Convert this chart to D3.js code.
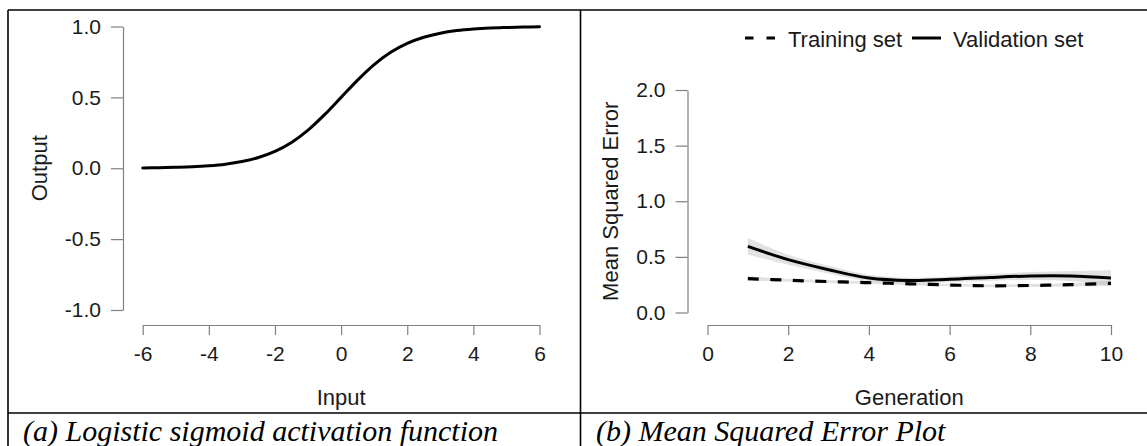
<!DOCTYPE html>
<html>
<head>
<meta charset="utf-8">
<script src="https://cdn.jsdelivr.net/npm/d3@7/dist/d3.min.js"></script>
<style>
  html, body { margin: 0; padding: 0; background: #fff; }
  svg { display: block; }
  .tick text { font-family: "Liberation Sans", Arial, sans-serif; font-size: 21px; fill: #1a1a1a; }
  .axis path, .axis line { stroke: #808080; stroke-width: 1.2; }
  .title { font-family: "Liberation Sans", Arial, sans-serif; font-size: 22px; fill: #1a1a1a; }
  .caption { font-family: "Liberation Serif", "Times New Roman", serif; font-style: italic; font-size: 30px; fill: #000; }
</style>
</head>
<body>
<svg id="fig" width="1147" height="446"></svg>
<script>
// Panel (a): logistic sigmoid, sampled every 0.5 on the input axis
const sigmoidInput  = [-6, -5.5, -5, -4.5, -4, -3.5, -3, -2.5, -2, -1.5, -1, -0.5, 0,
                       0.5, 1, 1.5, 2, 2.5, 3, 3.5, 4, 4.5, 5, 5.5, 6];
const sigmoidOutput = [0.002, 0.004, 0.007, 0.011, 0.018, 0.029, 0.047, 0.076, 0.119, 0.182, 0.269, 0.378, 0.5,
                       0.622, 0.731, 0.818, 0.881, 0.924, 0.953, 0.971, 0.982, 0.989, 0.993, 0.996, 0.998];
const sigmoidXTicks = [-6, -4, -2, 0, 2, 4, 6];
const sigmoidYTicks = [-1, -0.5, 0, 0.5, 1];

// Panel (b): smoothed MSE per generation with confidence bands
const generations     = [1, 2, 3, 4, 5, 6, 7, 8, 9, 10];
const trainingMSE     = [0.305, 0.290, 0.278, 0.268, 0.258, 0.247, 0.240, 0.243, 0.250, 0.262];
const trainingLower   = [0.285, 0.277, 0.266, 0.256, 0.246, 0.235, 0.228, 0.230, 0.234, 0.238];
const trainingUpper   = [0.325, 0.303, 0.290, 0.280, 0.270, 0.259, 0.252, 0.256, 0.266, 0.286];
const validationMSE   = [0.595, 0.475, 0.385, 0.310, 0.288, 0.298, 0.315, 0.328, 0.328, 0.310];
const validationLower = [0.520, 0.430, 0.350, 0.280, 0.263, 0.273, 0.285, 0.293, 0.283, 0.240];
const validationUpper = [0.670, 0.520, 0.420, 0.340, 0.313, 0.323, 0.345, 0.363, 0.373, 0.380];
const mseXTicks = [0, 2, 4, 6, 8, 10];
const mseYTicks = [0, 0.5, 1, 1.5, 2];
const legendLabels = ["Training set", "Validation set"];

const captions = ["(a) Logistic sigmoid activation function", "(b) Mean Squared Error Plot"];

const svg = d3.select("#fig");
svg.append("rect").attr("width", 1147).attr("height", 446).attr("fill", "#fff");

// Table frame around the two panels and their captions
const frame = svg.append("g").attr("stroke", "#000").attr("stroke-width", 1.6);
frame.append("line").attr("x1", 8).attr("x2", 1147).attr("y1", 10).attr("y2", 10);
frame.append("line").attr("x1", 8).attr("x2", 1147).attr("y1", 413).attr("y2", 413);
frame.append("line").attr("x1", 8).attr("x2", 8).attr("y1", 10).attr("y2", 446);
frame.append("line").attr("x1", 580.5).attr("x2", 580.5).attr("y1", 10).attr("y2", 446);

const fmt1 = d => d.toFixed(1);
const fmt0 = d => String(d);

function drawAxes(x, y, xTicks, yTicks, xAxisY, yAxisX) {
  svg.append("g").attr("class", "axis")
    .attr("transform", `translate(0,${xAxisY})`)
    .call(d3.axisBottom(x).tickValues(xTicks).tickFormat(fmt0).tickSize(10).tickSizeOuter(0).tickPadding(11))
    .call(g => g.selectAll("text").attr("font-family", null).attr("font-size", null));
  svg.append("g").attr("class", "axis")
    .attr("transform", `translate(${yAxisX},0)`)
    .call(d3.axisLeft(y).tickValues(yTicks).tickFormat(fmt1).tickSize(12).tickSizeOuter(0).tickPadding(10))
    .call(g => g.selectAll("text").attr("font-family", null).attr("font-size", null));
}

// ---------- Panel (a) ----------
const xA = d3.scaleLinear().domain([-6, 6]).range([142.7, 539.5]);
const yA = d3.scaleLinear().domain([-1, 1]).range([310, 26.5]);
drawAxes(xA, yA, sigmoidXTicks, sigmoidYTicks, 325, 123);

svg.append("path")
  .datum(sigmoidInput.map((v, i) => [v, sigmoidOutput[i]]))
  .attr("fill", "none").attr("stroke", "#000").attr("stroke-width", 3)
  .attr("stroke-linecap", "round")
  .attr("d", d3.line().x(d => xA(d[0])).y(d => yA(d[1])).curve(d3.curveCatmullRom));

svg.append("text").attr("class", "title")
  .attr("transform", `translate(39,${yA(0)}) rotate(-90)`)
  .attr("text-anchor", "middle").attr("dominant-baseline", "central").text("Output");
svg.append("text").attr("class", "title")
  .attr("x", xA(0)).attr("y", 397)
  .attr("text-anchor", "middle").attr("dominant-baseline", "central").text("Input");

// ---------- Panel (b) ----------
const xB = d3.scaleLinear().domain([0, 10]).range([707.5, 1111]);
const yB = d3.scaleLinear().domain([0, 2]).range([312.5, 90]);
drawAxes(xB, yB, mseXTicks, mseYTicks, 325, 687.5);

const band = (lo, hi) => d3.area()
  .x((d, i) => xB(generations[i]))
  .y0((d, i) => yB(lo[i])).y1((d, i) => yB(hi[i]))
  .curve(d3.curveCatmullRom)(generations);

svg.append("path").attr("d", band(validationLower, validationUpper))
  .attr("fill", "#a0a0a0").attr("fill-opacity", 0.3);
svg.append("path").attr("d", band(trainingLower, trainingUpper))
  .attr("fill", "#a0a0a0").attr("fill-opacity", 0.3);

const mseLine = vals => d3.line()
  .x((d, i) => xB(generations[i])).y((d, i) => yB(vals[i]))
  .curve(d3.curveCatmullRom)(generations);

svg.append("path").attr("d", mseLine(trainingMSE))
  .attr("fill", "none").attr("stroke", "#000").attr("stroke-width", 3.2)
  .attr("stroke-dasharray", "11,11.5");
svg.append("path").attr("d", mseLine(validationMSE))
  .attr("fill", "none").attr("stroke", "#000").attr("stroke-width", 3);

svg.append("text").attr("class", "title")
  .attr("transform", `translate(610,${yB(1)}) rotate(-90)`)
  .attr("text-anchor", "middle").attr("dominant-baseline", "central").text("Mean Squared Error");
svg.append("text").attr("class", "title")
  .attr("x", xB(5)).attr("y", 397)
  .attr("text-anchor", "middle").attr("dominant-baseline", "central").text("Generation");

// Legend
const legend = svg.append("g").attr("class", "title");
legend.append("line").attr("x1", 745).attr("x2", 777).attr("y1", 38).attr("y2", 38)
  .attr("stroke", "#000").attr("stroke-width", 3.2).attr("stroke-dasharray", "8.5,13");
legend.append("text").attr("x", 788).attr("y", 46.5).text(legendLabels[0]);
legend.append("line").attr("x1", 912).attr("x2", 941).attr("y1", 38).attr("y2", 38)
  .attr("stroke", "#000").attr("stroke-width", 3);
legend.append("text").attr("x", 953).attr("y", 46.5).text(legendLabels[1]);

// Captions under each panel
svg.append("text").attr("class", "caption").attr("x", 23).attr("y", 440.5).text(captions[0]);
svg.append("text").attr("class", "caption").attr("x", 596).attr("y", 440.5).text(captions[1]);
</script>
</body>
</html>
